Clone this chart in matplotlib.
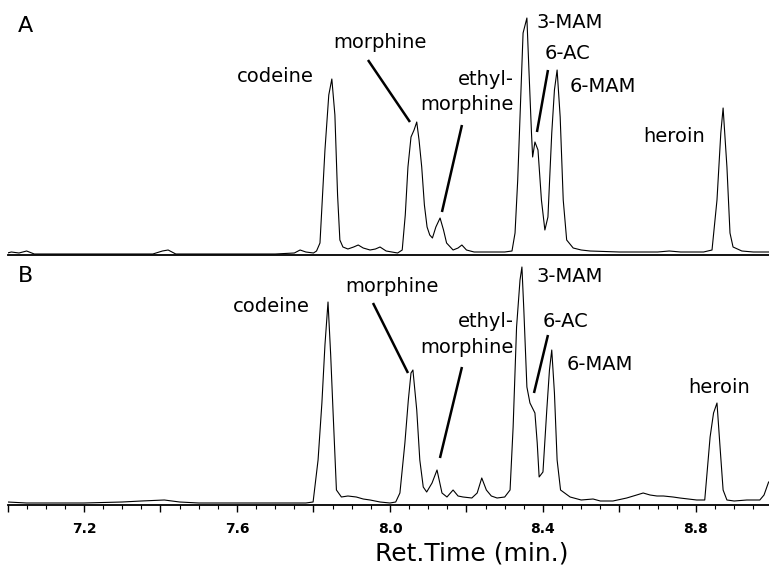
import matplotlib
matplotlib.use("Agg")
import matplotlib.pyplot as plt
from matplotlib.ticker import MultipleLocator, FuncFormatter

# ---- data: retention time (min) and detector response (arbitrary units) ----
time_a = [7.00, 7.01, 7.03, 7.05, 7.07, 7.10, 7.20, 7.30, 7.38, 7.405,
          7.42, 7.44, 7.50, 7.60, 7.70, 7.75, 7.765, 7.78, 7.80, 7.808,
          7.817, 7.830, 7.840, 7.848, 7.856, 7.863, 7.869, 7.877, 7.89, 7.905,
          7.917, 7.93, 7.948, 7.962, 7.974, 7.99, 8.005, 8.020, 8.032, 8.040,
          8.047, 8.055, 8.063, 8.070, 8.076, 8.083, 8.090, 8.097, 8.104, 8.111,
          8.120, 8.131, 8.140, 8.148, 8.165, 8.178, 8.188, 8.20, 8.22, 8.26,
          8.30, 8.319, 8.327, 8.334, 8.340, 8.348, 8.358, 8.363, 8.370, 8.373,
          8.379, 8.387, 8.396, 8.405, 8.413, 8.418, 8.423, 8.430, 8.437, 8.445,
          8.453, 8.462, 8.479, 8.50, 8.523, 8.60, 8.70, 8.73, 8.76, 8.82,
          8.842, 8.855, 8.865, 8.871, 8.881, 8.889, 8.897, 8.92, 8.95, 8.99]
signal_a = [2, 3, 2, 4, 1, 1, 1, 1, 1, 4,
            5, 1, 1, 1, 1, 2, 5, 3, 2, 4,
            12, 105, 160, 176, 140, 60, 15, 8, 6, 8,
            10, 7, 5, 6, 8, 4, 3, 2, 5, 40,
            88, 118, 125, 133, 115, 88, 50, 28, 20, 17,
            28, 37, 25, 12, 5, 7, 10, 5, 3, 3,
            3, 4, 22, 75, 138, 222, 237, 188, 122, 98,
            113, 105, 55, 25, 38, 80, 122, 165, 185, 138,
            55, 15, 7, 5, 4, 3, 3, 4, 3, 3,
            5, 55, 122, 147, 88, 22, 8, 4, 3, 3]

time_b = [7.00, 7.05, 7.10, 7.20, 7.30, 7.35, 7.41, 7.45, 7.50, 7.60,
          7.70, 7.78, 7.799, 7.812, 7.822, 7.830, 7.838, 7.845, 7.851, 7.860,
          7.873, 7.89, 7.912, 7.93, 7.948, 7.974, 8.00, 8.015, 8.026, 8.039,
          8.048, 8.055, 8.060, 8.070, 8.078, 8.087, 8.096, 8.110, 8.123, 8.136,
          8.149, 8.165, 8.178, 8.191, 8.214, 8.228, 8.240, 8.252, 8.265, 8.280,
          8.300, 8.314, 8.322, 8.331, 8.340, 8.345, 8.350, 8.358, 8.366, 8.379,
          8.385, 8.390, 8.400, 8.410, 8.417, 8.423, 8.430, 8.437, 8.446, 8.471,
          8.50, 8.531, 8.55, 8.583, 8.619, 8.645, 8.662, 8.68, 8.698, 8.715,
          8.74, 8.758, 8.78, 8.802, 8.823, 8.837, 8.846, 8.855, 8.863, 8.871,
          8.881, 8.90, 8.933, 8.967, 8.978, 8.99]
signal_b = [3, 2, 2, 2, 3, 4, 5, 3, 2, 2,
            2, 2, 3, 45, 102, 160, 203, 150, 95, 15,
            8, 9, 8, 6, 5, 3, 2, 3, 12, 62,
            105, 132, 135, 95, 45, 18, 13, 22, 35, 12,
            8, 15, 9, 8, 7, 12, 27, 15, 9, 7,
            8, 15, 78, 178, 225, 238, 195, 118, 102, 92,
            62, 28, 33, 95, 135, 155, 112, 45, 15, 8,
            5, 6, 4, 4, 7, 10, 12, 10, 9, 9,
            8, 7, 6, 5, 5, 68, 92, 102, 58, 15,
            5, 4, 5, 5, 10, 23]

compounds = ["codeine", "morphine", "ethyl-", "morphine", "3-MAM", "6-AC", "6-MAM", "heroin"]
tick_values = [7.2, 7.6, 8.0, 8.4, 8.8]
tick_labels = ["7.2", "7.6", "8.0", "8.4", "8.8"]

# ---- figure ----
W, H = 769, 573
fig = plt.figure(figsize=(W / 100, H / 100), dpi=100)
left = 7.5 / W
width = 1 - left
axA = fig.add_axes([left, (H - 255) / H, width, 245 / H])
axB = fig.add_axes([left, (H - 505) / H, width, 245 / H])

XMIN, XMAX = 7.0, 8.991
for ax in (axA, axB):
    ax.set_xlim(XMIN, XMAX)
    ax.set_ylim(0, 245)
    for s in ("top", "right", "left"):
        ax.spines[s].set_visible(False)
    ax.spines["bottom"].set_linewidth(1.3)
    ax.set_yticks([])
    ax.patch.set_alpha(0)

axA.plot(time_a, signal_a, color="black", lw=0.8)
axB.plot(time_b, signal_b, color="black", lw=0.8)

axA.set_xticks([])
axB.xaxis.set_major_locator(MultipleLocator(0.2))
axB.xaxis.set_minor_locator(MultipleLocator(0.05))
axB.xaxis.set_major_formatter(FuncFormatter(
    lambda v, p: tick_labels[tick_values.index(round(v, 1))] if round(v, 1) in tick_values else ""))
axB.tick_params(axis="x", which="major", direction="out", length=5, width=1.0, pad=7,
                labelsize=10)
axB.tick_params(axis="x", which="minor", direction="out", length=3, width=0.8)
for lab in axB.get_xticklabels():
    lab.set_fontweight("bold")

fs = 14
tkw = dict(fontsize=fs, va="baseline", color="black")
lkw = dict(color="black", lw=1.8, solid_capstyle="butt")

# Panel A labels
axA.text(7.7007, 173, compounds[0], ha="center", **tkw)
axA.text(7.9739, 207, compounds[1], ha="center", **tkw)
axA.text(8.3242, 170, compounds[2], ha="right", **tkw)
axA.text(8.3242, 145, compounds[3], ha="right", **tkw)
axA.text(8.3843, 227, compounds[4], ha="left", **tkw)
axA.text(8.4052, 196, compounds[5], ha="left", **tkw)
axA.text(8.4706, 163, compounds[6], ha="left", **tkw)
axA.text(8.7425, 113, compounds[7], ha="center", **tkw)
axA.plot([7.9425, 8.0523], [195, 133], **lkw)
axA.plot([8.1882, 8.1359], [130, 43], **lkw)
axA.plot([8.4131, 8.3843], [185, 123], **lkw)

# Panel B labels
axB.text(7.6889, 193, compounds[0], ha="center", **tkw)
axB.text(8.0039, 213, compounds[1], ha="center", **tkw)
axB.text(8.3242, 178, compounds[2], ha="right", **tkw)
axB.text(8.3242, 152, compounds[3], ha="right", **tkw)
axB.text(8.3843, 223, compounds[4], ha="left", **tkw)
axB.text(8.4000, 178, compounds[5], ha="left", **tkw)
axB.text(8.4627, 135, compounds[6], ha="left", **tkw)
axB.text(8.8601, 112, compounds[7], ha="center", **tkw)
axB.plot([7.9556, 8.0471], [202, 132], **lkw)
axB.plot([8.1882, 8.1307], [138, 47], **lkw)
axB.plot([8.4131, 8.3765], [170, 112], **lkw)

# panel letters and axis title
fig.text(18 / W, 1 - 26 / H, "A", fontsize=16, va="center", ha="left")
fig.text(18 / W, 1 - 276 / H, "B", fontsize=16, va="center", ha="left")
fig.text(472 / W, 1 - 553 / H, "Ret.Time (min.)", fontsize=18, ha="center", va="center")

fig.savefig("out.png", dpi=100)
